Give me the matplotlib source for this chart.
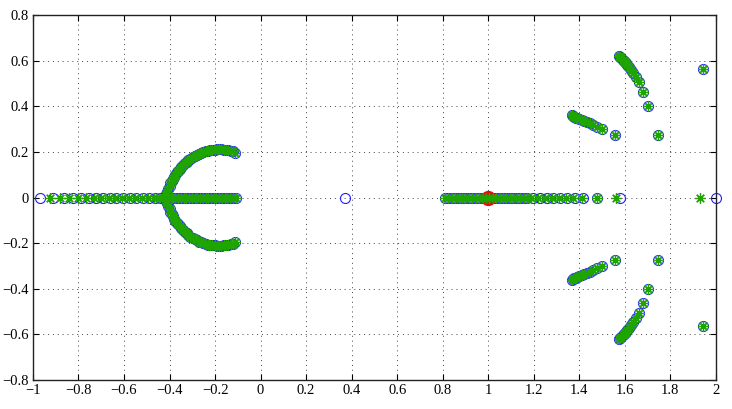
import matplotlib.pyplot as plt

# ---- data ----
# left real axis
left_circ_x = [-0.97, -0.91, -0.865, -0.825, -0.79, -0.755, -0.723, -0.692, -0.662,
               -0.633, -0.604, -0.575, -0.546, -0.518, -0.492, -0.465, -0.442, -0.425]
left_star_x = [-0.925, -0.88, -0.84, -0.80, -0.765, -0.73, -0.70, -0.668, -0.638,
               -0.608, -0.58, -0.55, -0.522, -0.495, -0.468, -0.445, -0.428]

# "C" shaped arc (upper half, lower half is the conjugate)
arc_x = [-0.112, -0.122, -0.132, -0.142, -0.152, -0.162, -0.172, -0.182, -0.192,
         -0.202, -0.212, -0.222, -0.232, -0.242, -0.252, -0.262, -0.272, -0.281,
         -0.290, -0.299, -0.308, -0.317, -0.325, -0.333, -0.341, -0.348, -0.355,
         -0.362, -0.368, -0.374, -0.380, -0.386, -0.391, -0.396, -0.400, -0.405,
         -0.410, -0.415]
arc_y = [0.197, 0.202, 0.205, 0.207, 0.209, 0.210, 0.211, 0.211, 0.211,
         0.210, 0.209, 0.208, 0.206, 0.203, 0.200, 0.197, 0.193, 0.188,
         0.183, 0.177, 0.171, 0.164, 0.157, 0.150, 0.142, 0.134, 0.126,
         0.118, 0.110, 0.101, 0.092, 0.082, 0.072, 0.062, 0.050, 0.038,
         0.026, 0.014]

# horizontal bar inside the "C"
bar_x = [-0.405, -0.39, -0.375, -0.362, -0.35, -0.338, -0.326, -0.314, -0.302,
         -0.29, -0.278, -0.266, -0.254, -0.242, -0.23, -0.218, -0.206, -0.194,
         -0.182, -0.17, -0.158, -0.146, -0.134, -0.122, -0.11]

lone_circ_x = [0.37]

# right real axis
right_circ_x = [0.81, 0.825, 0.84, 0.855, 0.87, 0.885, 0.90, 0.915, 0.93, 0.945,
                0.96, 0.975, 0.99, 1.005, 1.02, 1.035, 1.05, 1.065, 1.08, 1.095,
                1.11, 1.125, 1.14, 1.155, 1.17, 1.197, 1.227, 1.256, 1.285,
                1.314, 1.344, 1.38, 1.417, 1.476, 1.578, 2.0]
right_star_x = [0.81, 0.825, 0.84, 0.855, 0.87, 0.885, 0.90, 0.915, 0.93, 0.945,
                0.96, 0.975, 0.99, 1.005, 1.02, 1.035, 1.05, 1.065, 1.08, 1.095,
                1.11, 1.125, 1.14, 1.155, 1.17, 1.19, 1.22, 1.25, 1.28, 1.31,
                1.34, 1.373, 1.414, 1.476, 1.563, 1.93]

# complex branches on the right (upper half)
brA_x = [1.575, 1.580, 1.585, 1.590, 1.595, 1.600, 1.605, 1.611, 1.618, 1.627,
         1.637, 1.648, 1.662, 1.679, 1.700, 1.745, 1.944]
brA_y = [0.620, 0.615, 0.610, 0.604, 0.599, 0.594, 0.588, 0.581, 0.572, 0.561,
         0.547, 0.530, 0.506, 0.464, 0.401, 0.274, 0.563]
brB_x = [1.366, 1.372, 1.378, 1.385, 1.392, 1.400, 1.410, 1.420, 1.432, 1.445,
         1.460, 1.478, 1.500, 1.556]
brB_y = [0.362, 0.358, 0.355, 0.351, 0.347, 0.343, 0.339, 0.335, 0.330, 0.325,
         0.318, 0.310, 0.299, 0.274]

red_x = [1.0]
red_y = [0.0]

BLUE = '#1f1fff'
GREEN = '#1ea500'
RED = '#e01010'

plt.rcParams['font.family'] = ['Liberation Serif', 'DejaVu Serif']
plt.rcParams['font.size'] = 10.5

fig = plt.figure(figsize=(7.32, 4.09), dpi=100)
ax = fig.add_axes([0.045, 0.071, 0.933, 0.892])

circ = dict(linestyle='none', marker='o', markersize=7.2, markerfacecolor='none',
            markeredgecolor=BLUE, markeredgewidth=0.8, clip_on=False)
# MATLAB-style asterisk: 8 thin arms
star = dict(linestyle='none', marker=(8, 2, 0), markersize=7.5,
            markeredgecolor=GREEN, markeredgewidth=0.9, clip_on=False)

# collect the points of each series
cx, cy, sx, sy = [], [], [], []
cx += left_circ_x; cy += [0] * len(left_circ_x)
sx += left_star_x; sy += [0] * len(left_star_x)
cx += arc_x + arc_x; cy += arc_y + [-v for v in arc_y]
sx += arc_x + arc_x; sy += arc_y + [-v for v in arc_y]
cx += bar_x; cy += [0] * len(bar_x)
sx += bar_x; sy += [0] * len(bar_x)
cx += lone_circ_x; cy += [0] * len(lone_circ_x)
cx += right_circ_x; cy += [0] * len(right_circ_x)
sx += right_star_x; sy += [0] * len(right_star_x)
for bx, by in [(brA_x, brA_y), (brB_x, brB_y)]:
    cx += bx + bx; cy += by + [-v for v in by]
    sx += bx + bx; sy += by + [-v for v in by]

ax.plot(cx, cy, **circ)
ax.plot(red_x, red_y, linestyle='none', marker='o', markersize=10,
        color=RED, clip_on=False)
ax.plot(sx, sy, **star)

ax.set_xlim(-1, 2)
ax.set_ylim(-0.8, 0.8)
ax.set_xticks([-1, -0.8, -0.6, -0.4, -0.2, 0, 0.2, 0.4, 0.6, 0.8, 1, 1.2, 1.4, 1.6, 1.8, 2])
ax.set_xticklabels(['\u22121', '\u22120.8', '\u22120.6', '\u22120.4', '\u22120.2', '0',
                    '0.2', '0.4', '0.6', '0.8', '1', '1.2', '1.4', '1.6', '1.8', '2'])
ax.set_yticks([-0.8, -0.6, -0.4, -0.2, 0, 0.2, 0.4, 0.6, 0.8])
ax.set_yticklabels(['\u22120.8', '\u22120.6', '\u22120.4', '\u22120.2', '0',
                    '0.2', '0.4', '0.6', '0.8'])
ax.grid(True, linestyle=(0, (1, 4)), color='#444444', linewidth=0.7)
ax.set_axisbelow(True)
ax.tick_params(direction='in', length=4, width=0.8, top=True, right=True, pad=3)
for s in ax.spines.values():
    s.set_linewidth(1.0)
    s.set_color('#222222')

fig.savefig('out.png', dpi=100)
